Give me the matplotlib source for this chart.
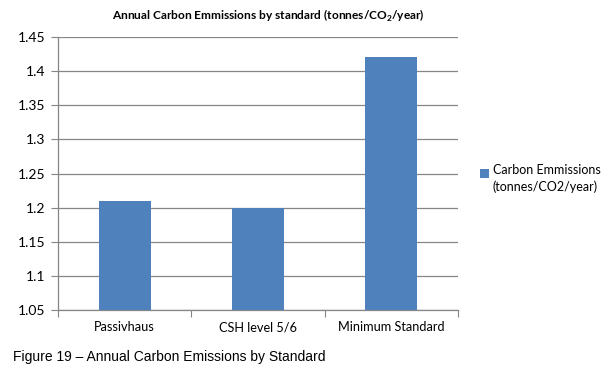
import matplotlib
matplotlib.use("Agg")
import matplotlib.pyplot as plt

categories = ["Passivhaus", "CSH level 5/6", "Minimum Standard"]
values = [1.21, 1.20, 1.42]
yticks = [1.05, 1.1, 1.15, 1.2, 1.25, 1.3, 1.35, 1.4, 1.45]
series_name = "Carbon Emmissions\n(tonnes/CO2/year)"

plt.rcParams["font.family"] = ["Lato", "DejaVu Sans"]
plt.rcParams["mathtext.fontset"] = "custom"
plt.rcParams["mathtext.rm"] = "Lato"
plt.rcParams["mathtext.bf"] = "Lato:bold"

grey = "#868686"
fig = plt.figure(figsize=(6.11, 3.76), dpi=100)
ax = fig.add_axes([0.0949, 0.1755, 0.6547, 0.7261])

x = range(len(categories))
ax.bar(x, values, width=0.39, color="#4F81BD", label=series_name, zorder=3)

ax.set_ylim(1.05, 1.45)
ax.set_xlim(-0.5, 2.5)
ax.set_yticks(yticks)
ax.set_yticklabels([f"{v:g}" for v in yticks], fontsize=10)
ax.yaxis.grid(True, color=grey, linewidth=0.9, zorder=0)
ax.tick_params(axis="y", length=5, color=grey, pad=4)

ax.set_xticks([-0.5, 0.5, 1.5, 2.5])
ax.set_xticklabels([])
ax.tick_params(axis="x", which="major", length=5, color=grey)
ax.set_xticks(list(x), minor=True)
ax.set_xticklabels(categories, minor=True, fontsize=9.2)
ax.tick_params(axis="x", which="minor", length=0, pad=8)

for s in ["top", "right"]:
    ax.spines[s].set_visible(False)
for s in ["left", "bottom"]:
    ax.spines[s].set_color(grey)
    ax.spines[s].set_linewidth(0.9)

fig.text(0.44, 0.957, r"Annual Carbon Emmissions by standard (tonnes/CO$_\mathbf{2}$/year)",
         ha="center", va="center", fontsize=8.6, fontweight="bold")

leg = fig.legend(loc="center left", bbox_to_anchor=(0.786, 0.525), frameon=False, fontsize=9,
                 handlelength=0.7, handleheight=0.7, handletextpad=0.3, borderpad=0, borderaxespad=0)
for t in leg.get_texts():
    t.set_linespacing(1.45)
for h in leg.legend_handles:
    h.set_y(h.get_y() + 4)

fig.text(0.021, 0.05, "Figure 19 \u2013 Annual Carbon Emissions by Standard",
         fontsize=10, family="Liberation Sans", va="center")

fig.savefig("out.png", dpi=100)
